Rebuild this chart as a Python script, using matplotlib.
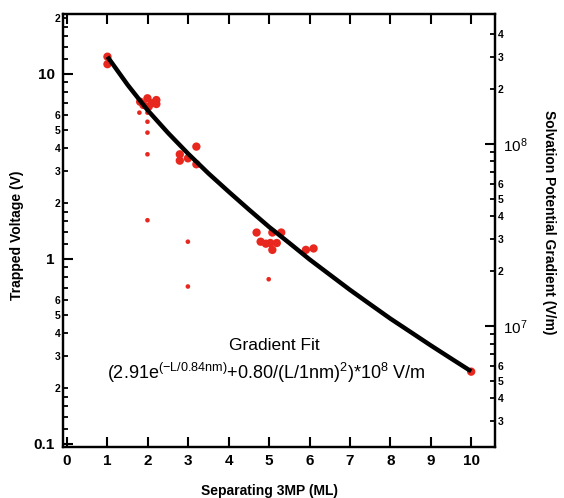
import matplotlib
matplotlib.use("Agg")
import matplotlib.pyplot as plt
from matplotlib.ticker import FixedLocator, FixedFormatter

plt.rcParams["font.family"] = ["Liberation Sans", "DejaVu Sans"]
plt.rcParams["mathtext.fontset"] = "custom"
plt.rcParams["mathtext.rm"] = "Liberation Sans"
plt.rcParams["mathtext.it"] = "Liberation Sans:italic"
plt.rcParams["mathtext.bf"] = "Liberation Sans:bold"

# measured trapped voltage, large markers (ML, V)
big_x = [1.0, 1.0, 1.81, 1.89, 1.99, 2.10, 2.21, 2.21, 2.02,
         3.20, 2.79, 2.79, 2.99, 3.20,
         4.69, 5.08, 5.30, 4.79, 4.92, 5.03, 5.19, 5.08, 5.91, 6.10,
         10.0]
big_y = [12.4, 11.3, 7.08, 6.8, 7.39, 6.95, 7.23, 6.88, 6.66,
         4.05, 3.68, 3.40, 3.50, 3.25,
         1.39, 1.39, 1.39, 1.24, 1.21, 1.22, 1.22, 1.12, 1.12, 1.14,
         0.246]

# small markers
small_x = [1.79, 1.99, 1.99, 1.99, 1.99, 1.99, 2.99, 2.99, 4.99]
small_y = [6.18, 6.18, 5.52, 4.82, 3.68, 1.62, 1.24, 0.71, 0.777]

# gradient fit curve (ML, V)
fit_x = [1.0, 1.5, 2.0, 2.5, 3.0, 3.5, 4.0, 4.5, 5.0, 5.5,
         6.0, 6.5, 7.0, 7.5, 8.0, 8.5, 9.0, 9.5, 10.0]
fit_y = [12.4, 8.73, 6.35, 4.80, 3.70, 2.90, 2.31, 1.85, 1.49, 1.22,
         0.995, 0.823, 0.681, 0.569, 0.476, 0.403, 0.341, 0.290, 0.247]

x_ticks = [0, 1, 2, 3, 4, 5, 6, 7, 8, 9, 10]

left_major = [0.1, 1, 10]
left_major_labels = ["0.1", "1", "10"]
left_subs = [1.2, 1.4, 1.6, 1.8, 2, 3, 4, 5, 6, 7, 8, 9]
left_sub_labels = {2: "2", 3: "3", 4: "4", 5: "5", 6: "6"}

right_major = [1e7, 1e8]
right_major_labels = [r"$10^7$", r"$10^8$"]
right_subs = [2, 3, 4, 5, 6, 7, 8, 9]
right_sub_labels = {2: "2", 3: "3", 4: "4", 5: "5", 6: "6"}

RED = "#e8281e"

fig = plt.figure(figsize=(5.64, 4.98), dpi=100)
ax = fig.add_axes([0.1117, 0.1024, 0.766, 0.8695])

ax.plot(fit_x, fit_y, color="black", lw=3.2, solid_capstyle="butt",
        solid_joinstyle="round", zorder=3)
ax.scatter(big_x, big_y, s=36, color=RED, edgecolors="none", zorder=2)
ax.scatter(small_x, small_y, s=11, color=RED, edgecolors="none", zorder=2)

ax.set_yscale("log")
ax.set_xlim(-0.1, 10.59)
ax.set_ylim(0.0963, 21.1)
ax.set_xticks(x_ticks)
ax.set_xticklabels([str(t) for t in x_ticks])

ymin, ymax = ax.get_ylim()
lpos, llab = [], []
for dec in left_major:
    for s in left_subs:
        v = s * dec
        if ymin < v < ymax:
            lpos.append(v)
            llab.append(left_sub_labels.get(s, ""))
ax.yaxis.set_major_locator(FixedLocator(left_major))
ax.yaxis.set_major_formatter(FixedFormatter(left_major_labels))
ax.yaxis.set_minor_locator(FixedLocator(lpos))
ax.yaxis.set_minor_formatter(FixedFormatter(llab))

for sp in ax.spines.values():
    sp.set_linewidth(1.6)

ax.tick_params(axis="x", which="major", direction="in", length=7, width=1.5,
               top=True, labelsize=11, pad=5)
ax.tick_params(axis="y", which="major", direction="in", length=7, width=1.5,
               right=False, labelsize=11, pad=6)
ax.tick_params(axis="y", which="minor", direction="in", length=3.6, width=1.3,
               right=False, labelsize=7.5, pad=2)
for lab in ax.get_xticklabels() + ax.get_yticklabels() + ax.get_yticklabels(minor=True):
    lab.set_fontweight("bold")

ax.set_xlabel("Separating 3MP (ML)", fontsize=10, fontweight="bold")
ax.xaxis.set_label_coords(0.479, -0.085)
ax.set_ylabel("Trapped Voltage (V)", fontsize=10, fontweight="bold")
ax.yaxis.set_label_coords(-0.09, 0.49)

# right axis
ax2 = ax.twinx()
ax2.set_yscale("log")
ax2.set_ylim(2.16e6, 5.17e8)
rmin, rmax = ax2.get_ylim()
rpos, rlab = [], []
for dec in [1e6, 1e7, 1e8]:
    for s in right_subs:
        v = s * dec
        if rmin < v < rmax * 0.96:
            rpos.append(v)
            rlab.append(right_sub_labels.get(s, ""))
ax2.yaxis.set_major_locator(FixedLocator(right_major))
ax2.yaxis.set_major_formatter(FixedFormatter(right_major_labels))
ax2.yaxis.set_minor_locator(FixedLocator(rpos))
ax2.yaxis.set_minor_formatter(FixedFormatter(rlab))
ax2.tick_params(axis="y", which="major", direction="in", length=7, width=1.5,
                labelsize=11, pad=6)
ax2.tick_params(axis="y", which="minor", direction="in", length=3.6, width=1.3,
                labelsize=7.5, pad=2)
for lab in ax2.get_yticklabels(minor=True):
    lab.set_fontweight("bold")
for sp in ax2.spines.values():
    sp.set_linewidth(1.6)
ax2.set_ylabel("Solvation Potential Gradient (V/m)", fontsize=10,
               fontweight="bold", rotation=270)
ax2.yaxis.set_label_coords(1.14, 0.52)

ax.text(0.488, 0.235, "Gradient Fit", transform=ax.transAxes,
        ha="center", va="center", fontsize=12.5)
ax.text(0.47, 0.17,
        r"(2.91e$^{\mathrm{(-L/0.84nm)}}$+0.80/(L/1nm)$^{\mathrm{2}}$)*10$^{\mathrm{8}}$ V/m",
        transform=ax.transAxes, ha="center", va="center", fontsize=13)

fig.savefig("out.png", dpi=100)
